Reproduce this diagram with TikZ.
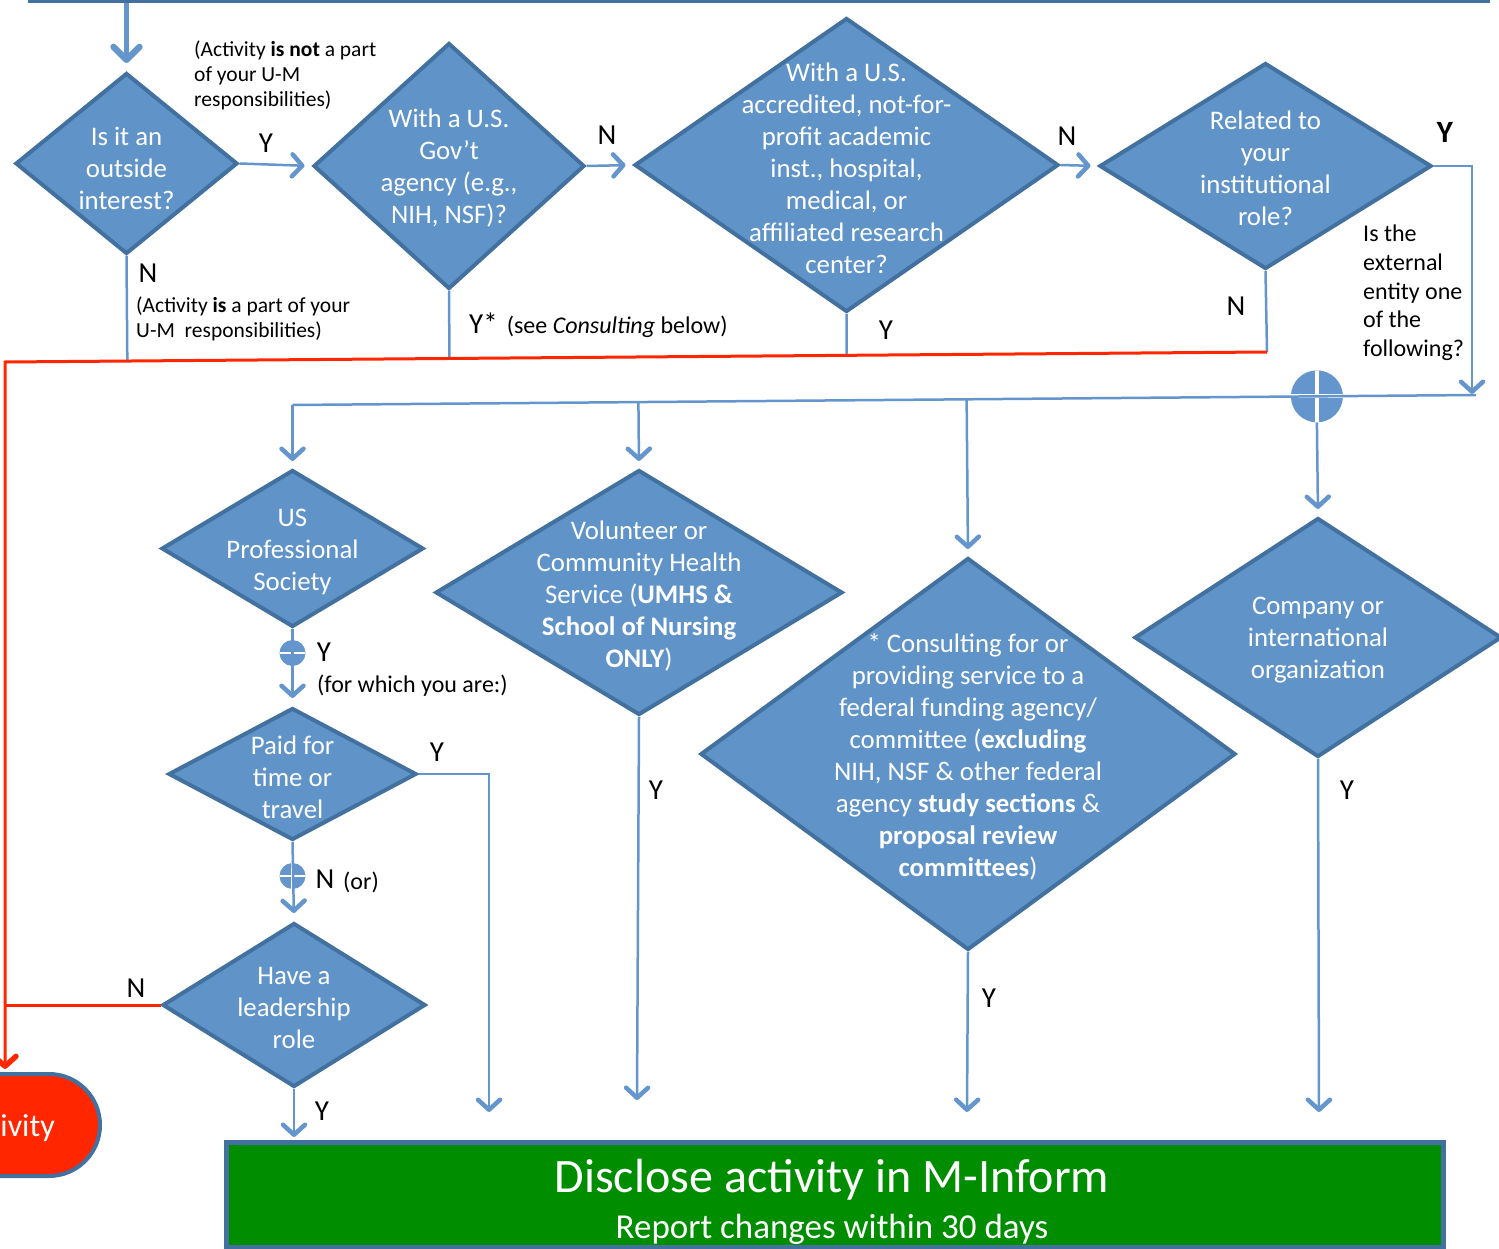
\documentclass[tikz,border=0pt]{standalone}
\usepackage{fontspec}
\setmainfont{Carlito}
\usetikzlibrary{shapes.geometric,shapes.misc,arrows.meta,calc}

\definecolor{dfill}{RGB}{96,148,201}
\definecolor{dline}{RGB}{66,113,160}
\definecolor{linkblue}{RGB}{100,150,205}
\definecolor{nored}{RGB}{255,38,0}
\definecolor{okgreen}{RGB}{0,142,0}

\newcommand{\qfont}{\fontsize{26.8}{32}\selectfont}
\newcommand{\lfont}{\fontsize{21.5}{25}\selectfont}
\newcommand{\mfont}{\fontsize{24}{28.7}\selectfont}
\newcommand{\yfont}{\fontsize{29}{30}\selectfont}

\tikzset{
  quest/.style={shape=diamond, draw=dline, fill=dfill, line width=4pt, inner sep=0pt},
  qtext/.style={text=white, align=center, font=\qfont, inner sep=0pt},
  lab/.style={align=left, font=\lfont, inner sep=0pt, anchor=west},
  yn/.style={font=\yfont, inner sep=0pt},
  wire/.style={draw=linkblue, line width=2.5pt},
  vee/.tip={Straight Barb[length=10pt,width=22pt,line width=0pt 1.8,line cap=round,line join=round]},
  flow/.style={wire, -vee, shorten >=7pt},
  redwire/.style={draw=nored, line width=3pt},
  junc/.style={circle, fill=linkblue, inner sep=0pt, minimum size=26pt,
    path picture={\draw[white, line width=2.5pt]
      (path picture bounding box.north) -- (path picture bounding box.south)
      (path picture bounding box.west) -- (path picture bounding box.east);}},
}

\begin{document}
\begin{tikzpicture}[x=1pt, y=-1pt]
    \useasboundingbox (0,0) rectangle (1499,1249);
    \clip (0,0) rectangle (1499,1249);
    %% top bar
    \draw[dline, line width=5pt] (28,1) -- (1490,1);
    \coordinate (top) at (126.5,3);
    %% first row of questions
    \node[quest, minimum width=222pt, minimum height=181pt] (q1) at (126.5,163.5) {};
    \node[quest, minimum width=271pt, minimum height=246pt] (q2) at (449,166) {};
    \node[quest, minimum width=424pt, minimum height=294pt] (q3) at (846.5,165) {};
    \node[quest, minimum width=332pt, minimum height=206pt] (q4) at (1265.5,166) {};
    \node[qtext] (q1t) at (126.5,168) {Is it an\\outside\\interest?};
    \node[qtext] (q2t) at (449,168.5) {With a U.S.\\Gov't\\agency (e.g.,\\NIH, NSF)?};
    \node[qtext] (q3t) at (846.5,168) {With a U.S.\\accredited, not-for-\\profit academic\\inst., hospital,\\medical, or\\affiliated research\\center?};
    \node[qtext] (q4t) at (1265.5,168) {Related to\\your\\institutional\\role?};
    %% second row
    \node[quest, minimum width=262pt, minimum height=157pt] (q5) at (292.5,548.5) {};
    \node[quest, minimum width=407pt, minimum height=245pt] (q6) at (639,592.5) {};
    \node[quest, minimum width=535pt, minimum height=392pt] (q9) at (968,754) {};
    \node[quest, minimum width=367pt, minimum height=239pt] (q10) at (1318,637.5) {};
    \node[quest, minimum width=248pt, minimum height=132pt] (q7) at (292.5,774) {};
    \node[quest, minimum width=263pt, minimum height=164pt] (q8) at (294,1005) {};
    \node[qtext] (q5t) at (292.5,552) {US\\Professional\\Society};
    \node[qtext] (q6t) at (639,596) {Volunteer or\\Community Health\\Service (\textbf{UMHS \&}\\\textbf{School of Nursing}\\\textbf{ONLY})};
    \node[qtext] (q9t) at (968,757) {* Consulting for or\\providing service to a\\federal funding agency/\\committee (\textbf{excluding}\\NIH, NSF \& other federal\\agency \textbf{study sections} \&\\\textbf{proposal review}\\\textbf{committees})};
    \node[qtext] (q10t) at (1318,640) {Company or\\international\\organization};
    \node[qtext] (q7t) at (292.5,777) {Paid for\\time or\\travel};
    \node[qtext] (q8t) at (294,1008) {Have a\\leadership\\role};
    %% end boxes
    \node[rounded rectangle, draw=dline, fill=nored, line width=4pt, minimum width=260pt,
          minimum height=102pt, anchor=east] (stop) at (102,1125) {};
    \node[text=white, font=\fontsize{32}{36}\selectfont, inner sep=0pt, anchor=east] (stopt) at (55,1128) {ivity};
    \node[draw=dline, fill=okgreen, line width=4.5pt, minimum width=1217pt, minimum height=105pt,
          anchor=north west] (gbox) at (224,1140) {};
    \node[text=white, align=center, font=\fontsize{48}{46}\selectfont] (gboxt) at (832,1202)
          {Disclose activity in M-Inform\\{\fontsize{35}{46}\selectfont Report changes within 30 days}};
    %% junctions
    \coordinate (dl) at (292.5,405);
    \coordinate (dr) at (1476,395);
    \node[junc, minimum size=52pt,
          path picture={\draw[white, line width=4pt]
            (path picture bounding box.north) -- (path picture bounding box.south)
            (path picture bounding box.west) -- (path picture bounding box.east);}]
          (j1) at ($(dl)!(q10.north)!(dr)$) {};
    \node[junc] (j2) at (292.5,653) {};
    \node[junc] (j3) at (292.5,876) {};
    %% connectors of the first row
    \draw[wire, line width=4.5pt, shorten >=8pt,
          -{Straight Barb[length=13pt,width=26pt,line width=0pt 1.4,line cap=round,line join=round]}]
          (top) -- (q1.north);
    \draw[flow] (q1.east) -- (q2.west);
    \draw[flow] (q2.east) -- (q3.west);
    \draw[flow] (q3.east) -- (q4.west);
    \coordinate (sel) at (1472,395);
    \draw[flow, shorten >=1pt] (q4.east) -| (sel);
    %% the "no" line
    \coordinate (rr) at (1267,352);
    \coordinate (rl) at (5,362);
    \draw[wire] (q4.south) -- (rr);
    \foreach \q in {q1,q2,q3}
        \draw[wire] (\q.south) -- ($(rl)!(\q.south)!(rr)$);
    \draw[redwire, -vee, shorten >=3pt]
        (rr) -- (rl) -- (rl |- stop.north);
    \draw[redwire] (q8.west) -- (q8.west -| rl);
    %% the line to the second row
    \draw[wire] (dl) -- (dr);
    \draw[flow] (dl) -- (q5.north);
    \foreach \q in {q6,q9}
        \draw[flow] ($(dl)!(\q.north)!(dr)$) -- (\q.north);
    \draw[flow] (j1.south) -- (q10.north);
    %% connectors of the second row
    \draw[flow, shorten >=8pt] (q5.south) -- (q7.north);
    \draw[flow, shorten >=8pt] (q7.south) -- (q8.north);
    \coordinate (e1) at (489,1112);
    \coordinate (e2) at (637,1100);
    \coordinate (e3) at (967,1112);
    \coordinate (e4) at (1319,1112);
    \draw[flow, shorten >=0pt] (q7.east) -| (e1);
    \foreach \q/\e in {q6/e2,q9/e3,q10/e4}
        \draw[flow, shorten >=0pt] (\q.south) -- (\e);
    \draw[flow, shorten >=3pt] (q8.south) -- (q8.south |- gbox.north);
    %% Y and N
    \foreach \t/\x/\y [count=\i] in {Y/266/143, N/607/135, N/1067/136, N/148/273,
            Y/886/330, N/1236/306, Y/324/652, N/325/879, Y/437/752, Y/656/790,
            Y/989/998, Y/1347/790, N/136/988, Y/322/1111}
        \node[yn] (yn\i) at (\x,\y) {\t};
    \node[yn, font=\fontsize{31}{32}\selectfont\bfseries] (ynb) at (1445,132) {Y};
    %% notes
    \node[lab] (n1) at (194,75) {(Activity \textbf{is not} a part\\of your U-M\\responsibilities)};
    \node[lab] (n2) at (136,319) {(Activity \textbf{is} a part of your\\U-M\ \ responsibilities)};
    \node[lab, font=\mfont, anchor=base west] (n3) at (469,333) {{\yfont Y*}\hspace{9pt}(see \textit{Consulting} below)};
    \node[lab, font=\mfont] (n4) at (1363,293) {Is the\\external\\entity one\\of the\\following?};
    \node[lab, font=\mfont] (n5) at (317,686) {(for which you are:)};
    \node[lab, font=\mfont] (n6) at (343,882) {(or)};
\end{tikzpicture}
\end{document}
